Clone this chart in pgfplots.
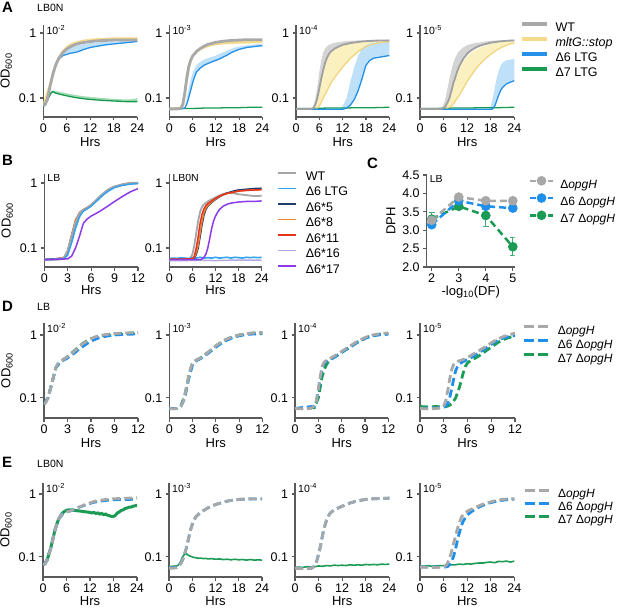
\documentclass[border=0pt]{standalone}
\usepackage{fontspec}
\setmainfont{Liberation Sans}
\usepackage{pgfplots}
\pgfplotsset{compat=1.18}

\definecolor{axc}{HTML}{5A5A5A}
\definecolor{wtg}{HTML}{A9A9A9}
\definecolor{wtgd}{HTML}{A0A0A0}
\definecolor{gband}{HTML}{D4D4D4}
\definecolor{yel}{HTML}{F6DB8C}
\definecolor{yeld}{HTML}{F2D37A}
\definecolor{yband}{HTML}{FBF0C0}
\definecolor{blu}{HTML}{2490E8}
\definecolor{bband}{HTML}{BEE0F8}
\definecolor{grn}{HTML}{179B50}
\definecolor{gnband}{HTML}{A3DCB4}
\definecolor{cwt}{HTML}{A6A6A6}
\definecolor{cltg}{HTML}{33A3EF}
\definecolor{cfive}{HTML}{1C3D6B}
\definecolor{ceight}{HTML}{F08232}
\definecolor{celeven}{HTML}{E63320}
\definecolor{csixteen}{HTML}{B3A8DD}
\definecolor{cseventeen}{HTML}{8C3BE8}
\definecolor{dg}{HTML}{A8A8A8}
\definecolor{db}{HTML}{1E8FEA}
\definecolor{dgr}{HTML}{1B9B54}
\definecolor{dgre}{HTML}{3FB070}

\newcommand{\fs}{\fontsize{12.5}{14}\selectfont}
\newcommand{\fls}{\fontsize{12}{14}\selectfont}
\newcommand{\fy}{\fontsize{13}{15}\selectfont}
\newcommand{\fl}{\fontsize{10.5}{12}\selectfont}
\newcommand{\fp}{\fontsize{15}{15}\selectfont\bfseries}

\pgfplotsset{
  myax/.style={scale only axis, axis lines=left, axis line style={-, draw=axc, line width=1.1pt},
    tick style={draw=axc, line width=1.1pt}, tick align=outside, major tick length=3.5pt,
    tick label style={font=\fs}, label style={font=\fy},
    xminorticks=false, yminorticks=false},
  myhrsa/.style={xmin=0, xmax=24, xtick={0,6,12,18,24}, xticklabels={0,6,12,18,24}},
  myhrsb/.style={xmin=0, xmax=12, xtick={0,3,6,9,12}, xticklabels={0,3,6,9,12}},
  mydsh/.style={line width=2.8pt, dash pattern=on 8pt off 4pt},
}

\begin{document}
\begin{tikzpicture}
\useasboundingbox (0pt,0pt) rectangle (617pt,-607pt);

% ---------------- panel labels
\node[font=\fp, anchor=north west, inner sep=0pt] at (2pt,-2pt) {A};
\node[font=\fl, anchor=north west, inner sep=0pt] at (37pt,-4pt) {LB0N};
\node[font=\fp, anchor=north west, inner sep=0pt] at (2pt,-155pt) {B};
\node[font=\fp, anchor=north west, inner sep=0pt] at (367pt,-158pt) {C};
\node[font=\fp, anchor=north west, inner sep=0pt] at (2pt,-301pt) {D};
\node[font=\fl, anchor=north west, inner sep=0pt] at (37pt,-303pt) {LB};
\node[font=\fp, anchor=north west, inner sep=0pt] at (2pt,-457pt) {E};
\node[font=\fl, anchor=north west, inner sep=0pt] at (37pt,-460pt) {LB0N};

% ================= A1
\begin{axis}[myax, ymode=log, ytick={0.1,1}, yticklabels={0.1,1}, myhrsa, at={(43.3pt,-117pt)}, anchor=south west, width=94pt, height=92pt,
  ymin=0.051, ymax=1.33, xlabel={Hrs}, ylabel={OD\textsubscript{600}}, xlabel style={yshift=2pt}]
\addplot[fill=yband, draw=none] coordinates {(0,0.075)(2,0.18)(3,0.31)(4,0.43)(5,0.54)(6,0.62)(7,0.68)(8,0.73)(10,0.78)(12,0.81)(14,0.83)(16,0.84)(18,0.85)(20,0.85)(22,0.86)(24,0.86)(24,0.79)(20,0.79)(16,0.78)(12,0.75)(10,0.72)(8,0.67)(6,0.58)(5,0.51)(4,0.41)(3,0.3)(2,0.17)(0,0.074)} -- cycle;
\addplot[fill=bband, draw=none] coordinates {(4,0.41)(5,0.5)(6,0.56)(7,0.6)(8,0.63)(10,0.67)(12,0.7)(14,0.72)(16,0.73)(18,0.74)(20,0.75)(22,0.76)(24,0.77)(24,0.74)(22,0.72)(20,0.7)(18,0.68)(16,0.66)(14,0.63)(12,0.6)(10,0.55)(9,0.52)(8,0.5)(7,0.49)(6,0.47)(5,0.45)(4,0.4)} -- cycle;
\addplot[fill=gnband, draw=none] coordinates {(1,0.095)(2,0.13)(3,0.13)(4,0.125)(6,0.118)(8,0.112)(10,0.107)(12,0.104)(15,0.1)(18,0.097)(21,0.095)(23,0.096)(24,0.1)(24,0.088)(21,0.088)(18,0.09)(15,0.092)(12,0.095)(10,0.098)(8,0.102)(6,0.108)(4,0.115)(3,0.12)(2,0.12)(1,0.09)} -- cycle;
\addplot[grn, line width=1.3pt] coordinates {(0,0.075)(0.5,0.08)(1,0.09)(1.5,0.105)(2,0.12)(2.5,0.125)(3,0.12)(4,0.115)(6,0.108)(8,0.102)(10,0.098)(12,0.095)(15,0.092)(18,0.09)(21,0.088)(24,0.088)};
\addplot[yel, line width=2.5pt] coordinates {(0,0.075)(2,0.18)(3,0.3)(4,0.42)(5,0.52)(6,0.6)(7,0.66)(8,0.7)(10,0.75)(12,0.78)(14,0.8)(16,0.81)(18,0.82)(20,0.82)(22,0.82)(24,0.82)};
\addplot[blu, line width=1.3pt] coordinates {(0,0.075)(1,0.095)(2,0.18)(3,0.3)(4,0.4)(5,0.45)(6,0.47)(7,0.49)(8,0.5)(9,0.52)(10,0.55)(12,0.6)(14,0.63)(16,0.66)(18,0.68)(20,0.7)(22,0.72)(24,0.74)};
\addplot[wtg, line width=2.8pt] coordinates {(0,0.075)(0.5,0.08)(1,0.095)(1.5,0.13)(2,0.18)(2.5,0.24)(3,0.3)(3.5,0.36)(4,0.41)(5,0.5)(6,0.57)(7,0.62)(8,0.66)(9,0.69)(10,0.71)(12,0.74)(14,0.76)(16,0.77)(18,0.78)(20,0.78)(22,0.78)(24,0.78)};
\node[font=\fl, anchor=north west, inner sep=0pt, xshift=3pt] at (rel axis cs:0,1) {10\textsuperscript{-2}};
\end{axis}

% ================= A2
\begin{axis}[myax, ymode=log, ytick={0.1,1}, yticklabels={0.1,1}, myhrsa, at={(169.3pt,-117pt)}, anchor=south west, width=93pt, height=92pt,
  ymin=0.051, ymax=1.33, xlabel={Hrs}, xlabel style={yshift=2pt}]
\addplot[fill=yband, draw=none] coordinates {(8,0.59)(10,0.68)(12,0.73)(14,0.76)(16,0.78)(18,0.79)(20,0.8)(24,0.8)(24,0.71)(20,0.7)(18,0.69)(16,0.68)(14,0.67)(12,0.65)(10,0.62)(8,0.56)} -- cycle;
\addplot[fill=bband, draw=none] coordinates {(4,0.07)(4.5,0.1)(5,0.14)(5.5,0.19)(6,0.24)(6.5,0.28)(7,0.32)(8,0.36)(9,0.39)(10,0.41)(11,0.43)(12,0.45)(13,0.48)(14,0.51)(15,0.54)(16,0.57)(17,0.6)(18,0.62)(20,0.65)(22,0.67)(24,0.68)(24,0.64)(22,0.62)(20,0.6)(19,0.58)(18,0.56)(17,0.53)(16,0.5)(15,0.46)(14,0.43)(13,0.4)(12,0.38)(11,0.36)(10,0.34)(9,0.32)(8,0.29)(7,0.25)(6.5,0.21)(6,0.17)(5.5,0.13)(5,0.1)(4.5,0.08)(4,0.07)} -- cycle;
\addplot[grn, line width=1.3pt] coordinates {(0,0.068)(3,0.069)(6,0.069)(9,0.07)(12,0.07)(15,0.071)(18,0.071)(21,0.072)(24,0.072)};
\addplot[yel, line width=2.5pt] coordinates {(0,0.068)(3,0.07)(3.5,0.08)(4,0.12)(4.5,0.2)(5,0.3)(5.5,0.38)(6,0.44)(7,0.51)(8,0.57)(10,0.64)(12,0.68)(14,0.7)(16,0.71)(18,0.72)(20,0.72)(24,0.73)};
\addplot[blu, line width=1.3pt] coordinates {(0,0.068)(3,0.068)(4,0.07)(4.5,0.08)(5,0.1)(5.5,0.13)(6,0.17)(6.5,0.21)(7,0.25)(8,0.29)(9,0.32)(10,0.34)(11,0.36)(12,0.38)(13,0.4)(14,0.43)(15,0.46)(16,0.5)(17,0.53)(18,0.56)(19,0.58)(20,0.6)(22,0.62)(24,0.64)};
\addplot[wtg, line width=2.8pt] coordinates {(0,0.068)(1,0.068)(2,0.068)(3,0.07)(3.5,0.08)(4,0.12)(4.5,0.2)(5,0.3)(5.5,0.38)(6,0.44)(7,0.52)(8,0.58)(9,0.63)(10,0.67)(12,0.72)(14,0.75)(16,0.77)(18,0.78)(20,0.79)(22,0.79)(24,0.79)};
\node[font=\fl, anchor=north west, inner sep=0pt, xshift=3pt] at (rel axis cs:0,1) {10\textsuperscript{-3}};
\end{axis}

% ================= A3
\begin{axis}[myax, ymode=log, ytick={0.1,1}, yticklabels={0.1,1}, myhrsa, at={(296pt,-117pt)}, anchor=south west, width=93.3pt, height=92pt,
  ymin=0.051, ymax=1.33, xlabel={Hrs}, xlabel style={yshift=2pt}]
\addplot[fill=yband, draw=none] coordinates {(5,0.068)(6,0.13)(7,0.25)(8,0.4)(9,0.5)(10,0.56)(12,0.64)(14,0.69)(16,0.72)(18,0.74)(20,0.75)(24,0.77)(24,0.74)(22,0.72)(20,0.68)(18,0.62)(17,0.57)(16,0.52)(15,0.46)(14,0.41)(13,0.35)(12,0.3)(11,0.25)(10,0.21)(9,0.17)(8,0.13)(7,0.1)(6,0.075)(5,0.068)} -- cycle;
\addplot[fill=gband, draw=none] coordinates {(4,0.068)(4.5,0.075)(5,0.1)(5.5,0.15)(6,0.25)(6.5,0.38)(7,0.5)(7.5,0.58)(8,0.63)(9,0.68)(10,0.71)(12,0.74)(14,0.76)(18,0.78)(24,0.79)(24,0.77)(22,0.77)(20,0.76)(18,0.75)(16,0.73)(14,0.7)(12,0.66)(11,0.62)(10,0.58)(9,0.52)(8.5,0.48)(8,0.42)(7.5,0.35)(7,0.27)(6.5,0.2)(6,0.14)(5.5,0.1)(5,0.08)(4.5,0.07)(4,0.068)} -- cycle;
\addplot[fill=bband, draw=none] coordinates {(11,0.067)(12,0.075)(13,0.1)(14,0.18)(15,0.3)(16,0.45)(17,0.58)(18,0.65)(19,0.69)(20,0.71)(22,0.73)(24,0.74)(24,0.45)(23,0.44)(22,0.43)(21,0.42)(20,0.41)(19,0.38)(18,0.32)(17,0.2)(16,0.13)(15,0.095)(14,0.078)(13,0.07)(12,0.067)(11,0.067)} -- cycle;
\addplot[grn, line width=1.3pt] coordinates {(0,0.069)(4,0.069)(8,0.07)(12,0.07)(16,0.071)(20,0.071)(24,0.072)};
\addplot[yeld, line width=1.2pt] coordinates {(0,0.067)(5,0.067)(6,0.075)(7,0.1)(8,0.13)(9,0.17)(10,0.21)(11,0.25)(12,0.3)(13,0.35)(14,0.41)(15,0.46)(16,0.52)(17,0.57)(18,0.62)(20,0.68)(22,0.72)(24,0.74)};
\addplot[blu, line width=1.3pt] coordinates {(0,0.067)(12,0.067)(13,0.07)(14,0.078)(15,0.095)(16,0.13)(17,0.2)(18,0.32)(19,0.38)(20,0.41)(21,0.42)(22,0.43)(23,0.44)(24,0.45)};
\addplot[wtgd, line width=1.8pt] coordinates {(0,0.068)(4,0.068)(4.5,0.07)(5,0.08)(5.5,0.1)(6,0.14)(6.5,0.2)(7,0.27)(7.5,0.35)(8,0.42)(8.5,0.48)(9,0.52)(10,0.58)(11,0.62)(12,0.66)(14,0.7)(16,0.73)(18,0.75)(20,0.76)(22,0.77)(24,0.77)};
\node[font=\fl, anchor=north west, inner sep=0pt, xshift=3pt] at (rel axis cs:0,1) {10\textsuperscript{-4}};
\end{axis}

% ================= A4
\begin{axis}[myax, ymode=log, ytick={0.1,1}, yticklabels={0.1,1}, myhrsa, at={(420pt,-117pt)}, anchor=south west, width=94.3pt, height=92pt,
  ymin=0.051, ymax=1.33, xlabel={Hrs}, xlabel style={yshift=2pt},
  legend cell align=left,
  legend style={draw=none, fill=none, inner sep=0pt, outer sep=0pt, font=\fs, row sep=3.5pt,
    nodes={inner sep=0pt, text height=9pt, text depth=2.5pt},
    at={(1.064,1.03)}, anchor=north west, /tikz/every odd column/.append style={column sep=7pt}},
  legend image code/.code={\draw[#1] (0pt,4pt) -- (25pt,4pt);},
  legend entries={WT, \textit{mltG::stop}, Δ6 LTG, Δ7 LTG}]
\addlegendimage{wtg, line width=3.2pt}
\addlegendimage{yel, line width=3.2pt}
\addlegendimage{blu, line width=3.2pt}
\addlegendimage{grn, line width=3.2pt}
\addplot[fill=yband, draw=none] coordinates {(6.5,0.068)(7,0.08)(7.5,0.1)(8,0.13)(9,0.2)(10,0.28)(11,0.36)(12,0.43)(13,0.49)(14,0.54)(15,0.58)(16,0.62)(18,0.68)(20,0.72)(22,0.75)(24,0.77)(24,0.7)(23,0.68)(22,0.65)(21,0.61)(20,0.57)(19,0.52)(18,0.47)(17,0.42)(16,0.37)(15,0.32)(14,0.27)(13,0.22)(12,0.18)(11,0.14)(10,0.11)(9,0.09)(8,0.075)(7,0.07)(6.5,0.068)} -- cycle;
\addplot[fill=gband, draw=none] coordinates {(5.5,0.068)(6,0.08)(6.5,0.1)(7,0.14)(7.5,0.2)(8,0.27)(8.5,0.35)(9,0.42)(9.5,0.48)(10,0.53)(11,0.6)(12,0.65)(14,0.7)(16,0.73)(18,0.76)(20,0.77)(24,0.79)(24,0.77)(22,0.76)(20,0.74)(18,0.71)(16,0.66)(15,0.63)(14,0.59)(13,0.54)(12,0.48)(11,0.4)(10,0.31)(9.5,0.26)(9,0.21)(8.5,0.17)(8,0.13)(7.5,0.1)(7,0.085)(6.5,0.075)(6,0.07)(5.5,0.068)} -- cycle;
\addplot[fill=bband, draw=none] coordinates {(17.5,0.067)(18,0.075)(18.5,0.1)(19,0.14)(19.5,0.2)(20,0.26)(20.5,0.31)(21,0.35)(22,0.38)(23,0.39)(24,0.4)(24,0.185)(23,0.175)(22,0.165)(21,0.145)(20.5,0.13)(20,0.11)(19.5,0.09)(19,0.075)(18.5,0.068)(17.5,0.067)} -- cycle;
\addplot[grn, line width=1.3pt] coordinates {(0,0.069)(4,0.069)(8,0.07)(12,0.07)(16,0.071)(20,0.071)(24,0.072)};
\addplot[yeld, line width=1.2pt] coordinates {(0,0.067)(6.5,0.067)(7,0.07)(8,0.075)(9,0.09)(10,0.11)(11,0.14)(12,0.18)(13,0.22)(14,0.27)(15,0.32)(16,0.37)(17,0.42)(18,0.47)(19,0.52)(20,0.57)(21,0.61)(22,0.65)(23,0.68)(24,0.7)};
\addplot[blu, line width=1.3pt] coordinates {(0,0.067)(18,0.067)(18.5,0.068)(19,0.075)(19.5,0.09)(20,0.11)(20.5,0.13)(21,0.145)(22,0.165)(23,0.175)(24,0.185)};
\addplot[wtgd, line width=1.8pt] coordinates {(0,0.068)(5.5,0.068)(6,0.07)(6.5,0.075)(7,0.085)(7.5,0.1)(8,0.13)(8.5,0.17)(9,0.21)(9.5,0.26)(10,0.31)(11,0.4)(12,0.48)(13,0.54)(14,0.59)(15,0.63)(16,0.66)(18,0.71)(20,0.74)(22,0.76)(24,0.77)};
\node[font=\fl, anchor=north west, inner sep=0pt, xshift=3pt] at (rel axis cs:0,1) {10\textsuperscript{-5}};
\end{axis}

% ================= B1
\begin{axis}[myax, ymode=log, ytick={0.1,1}, yticklabels={0.1,1}, myhrsb, at={(44.3pt,-267pt)}, anchor=south west, width=93.7pt, height=93pt,
  ymin=0.051, ymax=1.375, xlabel={Hrs}, ylabel={OD\textsubscript{600}}, xlabel style={yshift=4pt}]
\addplot[csixteen, line width=1.5pt] coordinates {(0,0.066)(2.5,0.069)(3,0.088)(3.5,0.15)(4,0.26)(4.5,0.35)(5,0.39)(5.5,0.42)(6,0.46)(6.5,0.52)(7,0.59)(7.5,0.67)(8,0.75)(8.5,0.82)(9,0.87)(10,0.95)(11,1.0)(12,1.01)};
\addplot[ceight, line width=1.5pt] coordinates {(0,0.066)(2.5,0.07)(3,0.09)(3.5,0.16)(4,0.27)(4.5,0.35)(5,0.39)(5.5,0.42)(6,0.46)(6.5,0.52)(7,0.59)(7.5,0.67)(8,0.75)(8.5,0.82)(9,0.87)(10,0.94)(11,0.99)(12,1.0)};
\addplot[celeven, line width=1.5pt] coordinates {(0,0.066)(2.5,0.07)(3,0.09)(3.5,0.155)(4,0.26)(4.5,0.34)(5,0.38)(5.5,0.41)(6,0.45)(6.5,0.51)(7,0.58)(7.5,0.66)(8,0.74)(8.5,0.81)(9,0.86)(10,0.93)(11,0.98)(12,0.99)};
\addplot[cfive, line width=1.5pt] coordinates {(0,0.067)(2.5,0.069)(3,0.085)(3.5,0.14)(4,0.24)(4.5,0.33)(5,0.38)(5.5,0.41)(6,0.45)(6.5,0.51)(7,0.58)(7.5,0.66)(8,0.74)(8.5,0.81)(9,0.87)(10,0.94)(11,0.99)(12,1.0)};
\addplot[cwt, line width=2.2pt] coordinates {(0,0.067)(1,0.066)(2,0.067)(2.5,0.07)(3,0.09)(3.5,0.15)(4,0.25)(4.5,0.34)(5,0.38)(5.5,0.41)(6,0.46)(6.5,0.52)(7,0.6)(7.5,0.68)(8,0.76)(8.5,0.83)(9,0.88)(10,0.95)(11,1.0)(12,1.0)};
\addplot[cltg, line width=1.5pt] coordinates {(0,0.066)(2.5,0.068)(3,0.078)(3.5,0.12)(4,0.2)(4.5,0.3)(5,0.37)(5.5,0.4)(6,0.44)(6.5,0.5)(7,0.57)(7.5,0.65)(8,0.72)(8.5,0.79)(9,0.85)(10,0.92)(11,0.96)(12,0.98)};
\addplot[cseventeen, line width=1.5pt] coordinates {(0,0.066)(3,0.068)(3.5,0.075)(4,0.1)(4.5,0.15)(5,0.24)(5.5,0.28)(6,0.31)(7,0.36)(8,0.43)(9,0.52)(10,0.62)(11,0.73)(12,0.82)};
\node[font=\fl, anchor=north west, inner sep=0pt, xshift=3pt] at (rel axis cs:0,1) {LB};
\end{axis}

% ================= B2
\begin{axis}[myax, ymode=log, ytick={0.1,1}, yticklabels={0.1,1}, myhrsa, at={(169.3pt,-267pt)}, anchor=south west, width=92.4pt, height=93pt,
  ymin=0.051, ymax=1.375, xlabel={Hrs}, xlabel style={yshift=4pt},
  legend cell align=left,
  legend style={draw=none, fill=none, inner sep=0pt, outer sep=0pt, font=\fs, row sep=4pt,
    nodes={inner sep=0pt, text height=9pt, text depth=2.5pt},
    at={(1.166,1.03)}, anchor=north west, /tikz/every odd column/.append style={column sep=9pt}},
  legend image code/.code={\draw[#1] (0pt,4pt) -- (18pt,4pt);}]
\addplot[cwt, line width=1.8pt] coordinates {(0,0.066)(5,0.066)(5.5,0.07)(6,0.08)(6.5,0.11)(7,0.17)(7.5,0.26)(8,0.36)(8.5,0.43)(9,0.47)(10,0.52)(11,0.56)(12,0.6)(13,0.64)(14,0.68)(15,0.7)(16,0.7)(17,0.69)(18,0.67)(19,0.66)(20,0.65)(21,0.64)(22,0.63)(23,0.63)(24,0.64)};
\addlegendentry{WT}
\addplot[cltg, line width=1.6pt] coordinates {(0,0.069)(1,0.07)(2,0.069)(3,0.071)(4,0.07)(5,0.069)(6,0.071)(7,0.07)(8,0.072)(9,0.07)(10,0.071)(11,0.07)(12,0.072)(13,0.07)(14,0.071)(15,0.072)(16,0.07)(17,0.072)(18,0.071)(19,0.07)(20,0.072)(21,0.071)(22,0.072)(23,0.071)(24,0.072)};
\addlegendentry{Δ6 LTG}
\addplot[cfive, line width=1.6pt] coordinates {(0,0.067)(6,0.067)(6.5,0.07)(7,0.08)(7.5,0.1)(8,0.15)(8.5,0.23)(9,0.32)(9.5,0.39)(10,0.44)(11,0.5)(12,0.56)(13,0.61)(14,0.66)(15,0.7)(16,0.73)(17,0.76)(18,0.78)(20,0.8)(22,0.82)(24,0.83)};
\addlegendentry{Δ6*5}
\addplot[ceight, line width=1.5pt] coordinates {(0,0.067)(6,0.067)(6.5,0.072)(7,0.085)(7.5,0.11)(8,0.17)(8.5,0.26)(9,0.35)(9.5,0.41)(10,0.45)(11,0.51)(12,0.57)(13,0.62)(14,0.66)(15,0.69)(16,0.71)(17,0.73)(18,0.75)(20,0.77)(22,0.78)(24,0.79)};
\addlegendentry{Δ6*8}
\addplot[celeven, line width=1.5pt] coordinates {(0,0.067)(6,0.068)(6.5,0.075)(7,0.1)(7.5,0.15)(8,0.24)(8.5,0.33)(9,0.4)(9.5,0.45)(10,0.48)(11,0.53)(12,0.58)(13,0.63)(14,0.66)(15,0.69)(16,0.71)(17,0.73)(18,0.75)(20,0.77)(22,0.78)(24,0.79)};
\addlegendentry{Δ6*11}
\addplot[csixteen, line width=1.5pt] coordinates {(0,0.064)(4,0.064)(8,0.065)(12,0.064)(16,0.065)(20,0.065)(24,0.065)};
\addlegendentry{Δ6*16}
\addplot[cseventeen, line width=1.5pt] coordinates {(0,0.066)(8,0.066)(8.5,0.068)(9,0.072)(9.5,0.08)(10,0.1)(10.5,0.14)(11,0.2)(11.5,0.26)(12,0.31)(12.5,0.35)(13,0.39)(14,0.44)(15,0.47)(16,0.49)(17,0.5)(18,0.51)(20,0.52)(22,0.52)(24,0.53)};
\addlegendentry{Δ6*17}
\node[font=\fl, anchor=north west, inner sep=0pt, xshift=3pt] at (rel axis cs:0,1) {LB0N};
\end{axis}

% ================= C
\begin{axis}[myax, at={(426.7pt,-267pt)}, anchor=south west, width=88pt, height=92pt,
  xmin=1.815, xmax=5.07, ymin=2, ymax=4.5, xtick={2,3,4,5}, ytick={2,2.5,3,3.5,4,4.5},
  yticklabels={2.0,2.5,3.0,3.5,4.0,4.5}, xticklabels={2,3,4,5},
  xlabel={-log\textsubscript{10}(DF)}, ylabel={DPH}, xlabel style={yshift=4pt},
  legend cell align=left,
  legend style={draw=none, fill=none, inner sep=0pt, outer sep=0pt, font=\fls, row sep=4pt,
    nodes={inner sep=0pt, text height=9pt, text depth=2.5pt},
    at={(1.16,0.975)}, anchor=north west, /tikz/every odd column/.append style={column sep=6pt}},
  legend image code/.code={\draw[mark repeat=2,mark phase=2,#1] plot coordinates {(0pt,4pt) (11.5pt,4pt) (23pt,4pt)};},
  legend entries={Δ\textit{opgH}, Δ6 Δ\textit{opgH}, Δ7 Δ\textit{opgH}}]
\addlegendimage{dg, line width=2.5pt, dash pattern=on 6pt off 3pt, mark=*, mark size=3.5pt, mark options={solid}}
\addlegendimage{db, line width=2.5pt, dash pattern=on 6pt off 3pt, mark=*, mark size=3.5pt, mark options={solid}}
\addlegendimage{dgr, line width=2.5pt, dash pattern=on 6pt off 3pt, mark=*, mark size=3.5pt, mark options={solid}}
\addplot[dgr, line width=2.5pt, dash pattern=on 7pt off 4pt, mark=*, mark size=3.5pt, mark options={solid},
  error bars/.cd, y dir=both, y explicit, error bar style={dgre, line width=1pt, solid},
  error mark options={dgre, line width=1pt, mark size=3pt, rotate=90, solid}]
  coordinates {(2,3.3) +- (0,0.17) (3,3.65) +- (0,0.1) (4,3.4) +- (0,0.3) (5,2.55) +- (0,0.25)};
\addplot[db, line width=2.5pt, dash pattern=on 7pt off 4pt, mark=*, mark size=3.5pt, mark options={solid}]
  coordinates {(2,3.15)(3,3.8)(4,3.65)(5,3.6)};
\addplot[dg, line width=2.5pt, dash pattern=on 7pt off 4pt, mark=*, mark size=3.5pt, mark options={solid}]
  coordinates {(2,3.27)(3,3.9)(4,3.8)(5,3.8)};
\node[font=\fl, anchor=north west, inner sep=0pt, xshift=3pt] at (rel axis cs:0,1) {LB};
\end{axis}

% ================= D1
\begin{axis}[myax, ymode=log, ytick={0.1,1}, yticklabels={0.1,1}, myhrsb, at={(44pt,-418pt)}, anchor=south west, width=94pt, height=95pt,
  ymin=0.048, ymax=1.55, xlabel={Hrs}, ylabel={OD\textsubscript{600}}, xlabel style={yshift=2.5pt}]
\addplot[dgr, mydsh] coordinates {(0,0.08)(0.5,0.1)(1,0.17)(1.5,0.3)(2,0.37)(2.5,0.41)(3,0.45)(3.5,0.51)(4,0.58)(4.5,0.66)(5,0.74)(5.5,0.81)(6,0.87)(7,0.96)(8,1.01)(9,1.04)(10,1.06)(11,1.07)(12,1.08)};
\addplot[db, mydsh] coordinates {(0,0.08)(0.5,0.1)(1,0.17)(1.5,0.3)(2,0.36)(2.5,0.4)(3,0.43)(3.5,0.48)(4,0.53)(4.5,0.6)(5,0.66)(5.5,0.73)(6,0.8)(7,0.9)(8,0.96)(9,1.0)(10,1.02)(11,1.03)(12,1.04)};
\addplot[dg, mydsh] coordinates {(0,0.08)(0.25,0.085)(0.5,0.1)(0.75,0.13)(1,0.17)(1.25,0.23)(1.5,0.3)(1.75,0.35)(2,0.37)(2.5,0.41)(3,0.45)(3.5,0.5)(4,0.57)(4.5,0.65)(5,0.73)(5.5,0.8)(6,0.87)(6.5,0.93)(7,0.97)(8,1.02)(9,1.05)(10,1.07)(11,1.08)(12,1.1)};
\node[font=\fl, anchor=north west, inner sep=0pt, xshift=3pt] at (rel axis cs:0,1) {10\textsuperscript{-2}};
\end{axis}

% ================= D2
\begin{axis}[myax, ymode=log, ytick={0.1,1}, yticklabels={0.1,1}, myhrsb, at={(169.3pt,-418pt)}, anchor=south west, width=93pt, height=95pt,
  ymin=0.048, ymax=1.55, xlabel={Hrs}, xlabel style={yshift=2.5pt}]
\addplot[dgr, mydsh] coordinates {(0,0.068)(1,0.068)(1.5,0.075)(2,0.11)(2.5,0.22)(3,0.36)(3.5,0.4)(4,0.43)(5,0.53)(6,0.67)(7,0.81)(8,0.92)(9,1.0)(10,1.05)(11,1.08)(12,1.08)};
\addplot[db, mydsh] coordinates {(0,0.068)(1,0.068)(1.5,0.074)(2,0.1)(2.5,0.2)(3,0.34)(3.5,0.39)(4,0.42)(5,0.51)(6,0.64)(7,0.78)(8,0.89)(9,0.97)(10,1.02)(11,1.04)(12,1.05)};
\addplot[dg, mydsh] coordinates {(0,0.068)(0.5,0.067)(1,0.068)(1.5,0.075)(1.75,0.085)(2,0.11)(2.25,0.15)(2.5,0.22)(2.75,0.3)(3,0.36)(3.5,0.4)(4,0.43)(4.5,0.47)(5,0.53)(5.5,0.6)(6,0.67)(6.5,0.74)(7,0.81)(7.5,0.87)(8,0.92)(9,1.0)(10,1.05)(11,1.08)(12,1.08)};
\node[font=\fl, anchor=north west, inner sep=0pt, xshift=3pt] at (rel axis cs:0,1) {10\textsuperscript{-3}};
\end{axis}

% ================= D3
\begin{axis}[myax, ymode=log, ytick={0.1,1}, yticklabels={0.1,1}, myhrsb, at={(295pt,-418pt)}, anchor=south west, width=93.3pt, height=95pt,
  ymin=0.048, ymax=1.55, xlabel={Hrs}, xlabel style={yshift=2.5pt}]
\addplot[dgr, mydsh] coordinates {(0,0.068)(2.5,0.07)(3,0.1)(3.25,0.15)(3.5,0.22)(3.75,0.28)(4,0.33)(4.25,0.37)(4.5,0.4)(5,0.44)(5.5,0.48)(6,0.53)(6.5,0.58)(7,0.64)(7.5,0.7)(8,0.77)(8.5,0.83)(9,0.89)(9.5,0.94)(10,0.98)(11,1.03)(12,1.05)};
\addplot[db, mydsh] coordinates {(0,0.068)(2.5,0.074)(2.75,0.088)(3,0.13)(3.25,0.2)(3.5,0.3)(3.75,0.35)(4,0.38)(4.5,0.41)(5,0.44)(5.5,0.48)(6,0.53)(6.5,0.58)(7,0.63)(7.5,0.69)(8,0.76)(8.5,0.82)(9,0.88)(9.5,0.93)(10,0.97)(11,1.01)(12,1.03)};
\addplot[dg, mydsh] coordinates {(0,0.068)(1,0.067)(2,0.068)(2.5,0.075)(2.75,0.09)(3,0.14)(3.25,0.22)(3.5,0.32)(3.75,0.37)(4,0.39)(4.5,0.42)(5,0.46)(5.5,0.5)(6,0.55)(6.5,0.6)(7,0.66)(7.5,0.72)(8,0.79)(8.5,0.85)(9,0.91)(9.5,0.96)(10,1.0)(11,1.05)(12,1.08)};
\node[font=\fl, anchor=north west, inner sep=0pt, xshift=3pt] at (rel axis cs:0,1) {10\textsuperscript{-4}};
\end{axis}

% ================= D4
\begin{axis}[myax, ymode=log, ytick={0.1,1}, yticklabels={0.1,1}, myhrsb, at={(420pt,-418pt)}, anchor=south west, width=95pt, height=95pt,
  ymin=0.048, ymax=1.55, xlabel={Hrs}, xlabel style={yshift=2.5pt},
  legend cell align=left,
  legend style={draw=none, fill=none, inner sep=0pt, outer sep=0pt, font=\fls, row sep=2.5pt,
    nodes={inner sep=0pt, text height=9pt, text depth=2.5pt},
    at={(1.084,0.978)}, anchor=north west, /tikz/every odd column/.append style={column sep=8pt}},
  legend image code/.code={\draw[#1] (0pt,4pt) -- (24pt,4pt);},
  legend entries={Δ\textit{opgH}, Δ6 Δ\textit{opgH}, Δ7 Δ\textit{opgH}}]
\addlegendimage{dg, line width=2.8pt, dash pattern=on 10pt off 4pt}
\addlegendimage{db, line width=2.8pt, dash pattern=on 10pt off 4pt}
\addlegendimage{dgr, line width=2.8pt, dash pattern=on 10pt off 4pt}
\addplot[dgr, mydsh] coordinates {(0,0.073)(1,0.072)(2,0.073)(3,0.072)(3.5,0.074)(4,0.08)(4.5,0.1)(5,0.15)(5.25,0.2)(5.5,0.26)(5.75,0.32)(6,0.36)(6.5,0.4)(7,0.43)(7.5,0.47)(8,0.52)(8.5,0.58)(9,0.64)(9.5,0.71)(10,0.78)(10.5,0.84)(11,0.89)(11.5,0.93)(12,0.96)};
\addplot[db, mydsh] coordinates {(0,0.068)(3,0.07)(3.5,0.08)(3.75,0.1)(4,0.14)(4.25,0.2)(4.5,0.27)(4.75,0.32)(5,0.35)(5.5,0.38)(6,0.41)(6.5,0.44)(7,0.48)(7.5,0.53)(8,0.58)(8.5,0.64)(9,0.71)(9.5,0.78)(10,0.84)(10.5,0.89)(11,0.93)(11.5,0.96)(12,0.98)};
\addplot[dg, mydsh] coordinates {(0,0.068)(1,0.067)(2,0.068)(2.75,0.07)(3,0.075)(3.25,0.09)(3.5,0.13)(3.75,0.2)(4,0.28)(4.25,0.34)(4.5,0.37)(5,0.39)(5.5,0.41)(6,0.44)(6.5,0.48)(7,0.52)(7.5,0.57)(8,0.62)(8.5,0.68)(9,0.75)(9.5,0.82)(10,0.88)(10.5,0.94)(11,0.99)(11.5,1.03)(12,1.07)};
\node[font=\fl, anchor=north west, inner sep=0pt, xshift=3pt] at (rel axis cs:0,1) {10\textsuperscript{-5}};
\end{axis}

% ================= E1
\begin{axis}[myax, ymode=log, ytick={0.1,1}, yticklabels={0.1,1}, myhrsa, at={(43pt,-577pt)}, anchor=south west, width=94pt, height=94pt,
  ymin=0.048, ymax=1.495, xlabel={Hrs}, ylabel={OD\textsubscript{600}}, xlabel style={yshift=3pt}]
\addplot[dgr, line width=3pt] coordinates {(0,0.075)(0.5,0.078)(1,0.088)(1.5,0.11)(2,0.14)(2.5,0.19)(3,0.26)(3.5,0.33)(4,0.4)(4.5,0.45)(5,0.5)(5.5,0.53)(6,0.55)(6.5,0.56)(7,0.56)(8,0.55)(9,0.54)(10,0.53)(11,0.52)(12,0.51)(12.5,0.5)(13,0.51)(13.5,0.49)(14,0.5)(14.5,0.48)(15,0.49)(15.5,0.47)(16,0.48)(16.5,0.46)(17,0.45)(17.5,0.44)(18,0.44)(18.5,0.46)(19,0.5)(19.5,0.52)(20,0.55)(20.5,0.56)(21,0.59)(21.5,0.6)(22,0.62)(22.5,0.62)(23,0.64)(23.5,0.65)(24,0.66)};
\addplot[db, mydsh] coordinates {(0,0.075)(1,0.088)(2,0.14)(3,0.26)(4,0.4)(5,0.48)(6,0.52)(7,0.54)(8,0.57)(9,0.61)(10,0.64)(11,0.68)(12,0.71)(13,0.74)(14,0.76)(16,0.79)(18,0.81)(20,0.82)(22,0.82)(24,0.83)};
\addplot[dg, mydsh] coordinates {(0,0.075)(0.5,0.078)(1,0.088)(1.5,0.11)(2,0.14)(2.5,0.19)(3,0.26)(3.5,0.33)(4,0.4)(4.5,0.45)(5,0.48)(6,0.52)(7,0.54)(8,0.57)(9,0.61)(10,0.65)(11,0.69)(12,0.72)(13,0.76)(14,0.79)(15,0.8)(16,0.82)(18,0.84)(20,0.85)(22,0.86)(24,0.87)};
\node[font=\fl, anchor=north west, inner sep=0pt, xshift=3pt] at (rel axis cs:0,1) {10\textsuperscript{-2}};
\end{axis}

% ================= E2
\begin{axis}[myax, ymode=log, ytick={0.1,1}, yticklabels={0.1,1}, myhrsa, at={(169pt,-577pt)}, anchor=south west, width=93pt, height=94pt,
  ymin=0.048, ymax=1.495, xlabel={Hrs}, xlabel style={yshift=3pt}]
\addplot[dgr, line width=1.6pt] coordinates {(0,0.07)(1,0.071)(2,0.072)(2.5,0.075)(3,0.085)(3.5,0.1)(4,0.11)(4.5,0.112)(5,0.106)(5.5,0.103)(6,0.1)(6.5,0.098)(7,0.097)(7.5,0.095)(8,0.096)(9,0.094)(9.5,0.095)(10,0.093)(11,0.094)(12,0.092)(13,0.093)(14,0.091)(15,0.092)(16,0.09)(17,0.092)(18,0.09)(19,0.091)(20,0.089)(21,0.091)(22,0.089)(23,0.09)(24,0.089)};
\addplot[db, mydsh] coordinates {(0,0.067)(2,0.068)(2.5,0.07)(3,0.078)(3.5,0.09)(4,0.11)(4.5,0.14)(5,0.19)(5.5,0.26)(6,0.33)(6.5,0.39)(7,0.44)(8,0.5)(9,0.55)(10,0.6)(11,0.64)(12,0.68)(13,0.71)(14,0.74)(15,0.77)(16,0.79)(18,0.82)(20,0.83)(22,0.83)(24,0.83)};
\addplot[dg, mydsh] coordinates {(0,0.067)(1,0.066)(2,0.068)(2.5,0.07)(3,0.078)(3.5,0.09)(4,0.11)(4.5,0.14)(5,0.19)(5.5,0.26)(6,0.33)(6.5,0.39)(7,0.44)(8,0.5)(9,0.55)(10,0.6)(11,0.64)(12,0.68)(13,0.71)(14,0.74)(15,0.77)(16,0.79)(18,0.82)(20,0.84)(22,0.84)(24,0.84)};
\node[font=\fl, anchor=north west, inner sep=0pt, xshift=3pt] at (rel axis cs:0,1) {10\textsuperscript{-3}};
\end{axis}

% ================= E3
\begin{axis}[myax, ymode=log, ytick={0.1,1}, yticklabels={0.1,1}, myhrsa, at={(295pt,-577pt)}, anchor=south west, width=94.3pt, height=94pt,
  ymin=0.048, ymax=1.495, xlabel={Hrs}, xlabel style={yshift=3pt}]
\addplot[dgr, line width=1.6pt] coordinates {(0,0.068)(1,0.069)(2,0.068)(3,0.07)(4,0.069)(5,0.07)(6,0.072)(7,0.071)(8,0.073)(9,0.072)(10,0.074)(11,0.073)(12,0.074)(13,0.073)(14,0.075)(15,0.074)(16,0.075)(17,0.074)(18,0.076)(19,0.075)(20,0.076)(21,0.075)(22,0.077)(23,0.076)(24,0.077)};
\addplot[db, mydsh] coordinates {(0,0.066)(4,0.066)(4.5,0.068)(5,0.072)(5.5,0.085)(6,0.11)(6.5,0.15)(7,0.22)(7.5,0.3)(8,0.38)(8.5,0.45)(9,0.5)(10,0.56)(11,0.6)(12,0.64)(13,0.68)(14,0.72)(15,0.75)(16,0.78)(17,0.8)(18,0.82)(20,0.84)(22,0.85)(24,0.86)};
\addplot[dg, mydsh] coordinates {(0,0.066)(2,0.065)(4,0.066)(4.5,0.068)(5,0.072)(5.5,0.085)(6,0.11)(6.5,0.15)(7,0.22)(7.5,0.3)(8,0.38)(8.5,0.45)(9,0.5)(10,0.56)(11,0.6)(12,0.64)(13,0.68)(14,0.72)(15,0.75)(16,0.78)(17,0.8)(18,0.82)(20,0.84)(22,0.85)(24,0.86)};
\node[font=\fl, anchor=north west, inner sep=0pt, xshift=3pt] at (rel axis cs:0,1) {10\textsuperscript{-4}};
\end{axis}

% ================= E4
\begin{axis}[myax, ymode=log, ytick={0.1,1}, yticklabels={0.1,1}, myhrsa, at={(420pt,-577pt)}, anchor=south west, width=94.3pt, height=94pt,
  ymin=0.048, ymax=1.495, xlabel={Hrs}, xlabel style={yshift=3pt},
  legend cell align=left,
  legend style={draw=none, fill=none, inner sep=0pt, outer sep=0pt, font=\fls, row sep=1.5pt,
    nodes={inner sep=0pt, text height=9pt, text depth=2.5pt},
    at={(1.095,0.94)}, anchor=north west, /tikz/every odd column/.append style={column sep=8pt}},
  legend image code/.code={\draw[#1] (0pt,4pt) -- (24pt,4pt);},
  legend entries={Δ\textit{opgH}, Δ6 Δ\textit{opgH}, Δ7 Δ\textit{opgH}}]
\addlegendimage{dg, line width=2.8pt, dash pattern=on 10pt off 4pt}
\addlegendimage{db, line width=2.8pt, dash pattern=on 10pt off 4pt}
\addlegendimage{dgr, line width=2.8pt, dash pattern=on 10pt off 4pt}
\addplot[dgr, line width=1.6pt] coordinates {(0,0.072)(1,0.071)(2,0.073)(3,0.071)(4,0.072)(5,0.073)(6,0.073)(7,0.074)(8,0.075)(9,0.075)(10,0.077)(11,0.076)(12,0.078)(13,0.077)(14,0.079)(15,0.08)(16,0.08)(17,0.082)(18,0.083)(19,0.081)(20,0.085)(21,0.084)(22,0.086)(23,0.083)(24,0.086)};
\addplot[db, mydsh] coordinates {(0,0.069)(6,0.069)(7,0.07)(7.5,0.075)(8,0.085)(8.5,0.1)(9,0.13)(9.5,0.18)(10,0.24)(10.5,0.31)(11,0.37)(11.5,0.42)(12,0.46)(13,0.52)(14,0.57)(15,0.62)(16,0.66)(17,0.7)(18,0.73)(20,0.78)(22,0.81)(24,0.83)};
\addplot[dg, mydsh] coordinates {(0,0.069)(3,0.068)(6,0.069)(6.5,0.072)(7,0.08)(7.5,0.095)(8,0.12)(8.5,0.16)(9,0.21)(9.5,0.28)(10,0.35)(10.5,0.42)(11,0.48)(11.5,0.51)(12,0.53)(13,0.57)(14,0.61)(15,0.65)(16,0.69)(17,0.72)(18,0.75)(19,0.78)(20,0.8)(21,0.82)(22,0.83)(24,0.84)};
\node[font=\fl, anchor=north west, inner sep=0pt, xshift=3pt] at (rel axis cs:0,1) {10\textsuperscript{-5}};
\end{axis}

\end{tikzpicture}
\end{document}
